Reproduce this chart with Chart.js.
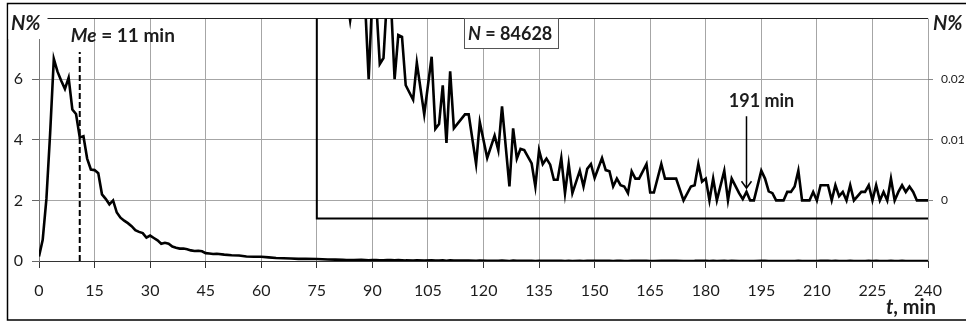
<!DOCTYPE html>
<html>
<head>
<meta charset="utf-8">
<script src="https://cdn.jsdelivr.net/npm/chart.js@4.4.1/dist/chart.umd.min.js"></script>
<style>
  html, body { margin: 0; padding: 0; background: #fff; }
  canvas { display: block; }
</style>
</head>
<body>
<canvas id="chart" width="966" height="324"></canvas>
<script>
// time t (min) and share of trips N%
const tMin = [0, 1, 2, 3, 4, 5, 6, 7, 8, 9, 10, 11, 12, 13, 14, 15, 16, 17, 18, 19,
  20, 21, 22, 23, 24, 25, 26, 27, 28, 29, 30, 31, 32, 33, 34, 35, 36, 37, 38, 39,
  40, 41, 42, 43, 44, 45, 46, 47, 48, 50, 52, 54, 56, 58, 60, 62, 64, 66, 68, 70,
  72, 75, 78, 80, 82, 83, 84, 85, 87, 88, 89, 90, 91, 92, 93, 94, 95, 96, 97, 98,
  99, 101, 102, 104, 106, 107, 108, 109, 110, 111, 112, 115, 116, 118, 119, 121, 123, 124, 125, 127,
  128, 129, 130, 131, 133, 134, 135, 136, 137, 138, 139, 140, 141, 142, 143, 144, 146, 147, 148, 149,
  150, 152, 153, 154, 155, 156, 157, 158, 159, 160, 161, 162, 164, 165, 166, 168, 169, 170, 172, 174,
  176, 177, 178, 179, 180, 181, 182, 183, 185, 186, 187, 189, 190, 191, 192, 193, 195, 196, 197, 198,
  199, 201, 202, 203, 204, 205, 206, 208, 209, 210, 211, 213, 214, 215, 216, 217, 218, 219, 220, 222,
  223, 224, 225, 226, 227, 228, 229, 230, 231, 232, 233, 234, 235, 236, 237, 240];
const nPct = [0.15, 0.7, 2.05, 4.2, 6.67, 6.25, 5.95, 5.68, 6.05, 5.0, 4.85, 4.08, 4.12, 3.38, 3.02, 3.0, 2.9, 2.2, 2.05, 1.87,
  2.0, 1.6, 1.43, 1.33, 1.25, 1.15, 1.02, 0.96, 0.92, 0.77, 0.84, 0.76, 0.68, 0.57, 0.6, 0.57, 0.48, 0.44, 0.41, 0.41,
  0.39, 0.35, 0.33, 0.34, 0.32, 0.26, 0.25, 0.23, 0.24, 0.21, 0.19, 0.18, 0.15, 0.14, 0.14, 0.12, 0.1, 0.09, 0.08, 0.07,
  0.07, 0.065, 0.05, 0.045, 0.038, 0.034, 0.0297, 0.034, 0.036, 0.033, 0.020, 0.034, 0.033, 0.0225, 0.0235, 0.034, 0.033, 0.020, 0.0273, 0.027,
  0.019, 0.0166, 0.0227, 0.0142, 0.0237, 0.0118, 0.0126, 0.019, 0.0095, 0.0213, 0.0119, 0.0142, 0.0142, 0.006, 0.0129, 0.007, 0.0107, 0.0083, 0.0155, 0.0023,
  0.0119, 0.0069, 0.0085, 0.0083, 0.0061, 0.0023, 0.0083, 0.006, 0.0069, 0.0059, 0.0034, 0.0034, 0.007, 0.0012, 0.006, 0.0012, 0.0049, 0.0023, 0.0052, 0.006,
  0.0037, 0.007, 0.005, 0.0048, 0.0023, 0.0036, 0.0025, 0.0023, 0.0012, 0.0048, 0.0036, 0.0036, 0.006, 0.0013, 0.0013, 0.006, 0.0036, 0.0036, 0.0036, 0,
  0.0023, 0.0025, 0.006, 0.0031, 0.0036, 0, 0.0036, 0, 0.0049, 0, 0.0036, 0.0012, 0.0002, 0.0014, 0, 0, 0.0049, 0.0036, 0.0015, 0.0012,
  0, 0, 0.0014, 0.0014, 0.0023, 0.0049, 0, 0, 0.0014, 0, 0.0025, 0.0025, 0, 0.0025, 0.0007, 0.0014, 0, 0.0025, 0, 0.0014,
  0.0014, 0.0025, 0, 0.0025, 0, 0.0014, 0, 0.0036, 0, 0.0014, 0.0025, 0.0014, 0.0023, 0.0014, 0, 0];

const insetFrom = 75;      // inset (zoomed) part starts here, min
const insetBottom = -0.003; // lower edge of the inset frame, in N%
const medianMin = 11;
const medianTop = 6.9;
const markMin = 191;
const totalN = 84628;

const FONT = 'Lato, "Open Sans", sans-serif';
const TXT = '#1c1c1c';

const mainPts = tMin.map((t, i) => ({x: t, y: nPct[i]}));
const insetPts = mainPts.filter(p => p.x >= insetFrom);

// draw a line of text made of bold / bold-italic pieces
function drawParts(ctx, x, y, parts, size) {
  parts.forEach(p => {
    ctx.font = (p.it ? 'italic ' : '') + 'bold ' + size + 'px ' + FONT;
    ctx.fillText(p.t, x, y);
    x += ctx.measureText(p.t).width;
  });
}

const decor = {
  id: 'decor',
  beforeDraw(chart) {
    const ctx = chart.ctx;
    ctx.save();
    ctx.fillStyle = '#fff';
    ctx.fillRect(0, 0, chart.width, chart.height);
    ctx.strokeStyle = '#000';
    ctx.lineWidth = 1.5;
    ctx.strokeRect(7.5, 3.5, chart.width + 10, 316.5);
    ctx.restore();
  },
  afterDatasetsDraw(chart) {
    const ctx = chart.ctx;
    const x = chart.scales.x, y2 = chart.scales.y2;
    const area = chart.chartArea;
    ctx.save();

    // inset frame
    const bx = x.getPixelForValue(insetFrom);
    const by = y2.getPixelForValue(insetBottom);
    ctx.strokeStyle = '#000';
    ctx.lineWidth = 2;
    ctx.beginPath();
    ctx.moveTo(bx, area.top);
    ctx.lineTo(bx, by);
    ctx.lineTo(area.right, by);
    ctx.stroke();

    // arrow at 191 min
    const ax = x.getPixelForValue(markMin);
    const tipY = y2.getPixelForValue(0.002);
    ctx.lineWidth = 1.5;
    ctx.beginPath();
    ctx.moveTo(ax, y2.getPixelForValue(0.0139));
    ctx.lineTo(ax, tipY);
    ctx.moveTo(ax - 5, tipY - 7);
    ctx.lineTo(ax, tipY);
    ctx.lineTo(ax + 5, tipY - 7);
    ctx.stroke();

    // white patch behind the left N% label
    ctx.fillStyle = '#fff';
    ctx.fillRect(8.5, 5, 39, 34);

    ctx.fillStyle = TXT;
    ctx.textBaseline = 'alphabetic';
    drawParts(ctx, 11, 30, [{t: 'N%', it: true}], 20);
    drawParts(ctx, 933, 30, [{t: 'N%', it: true}], 20);
    drawParts(ctx, x.getPixelForValue(8.6), 42, [{t: 'Me', it: true}, {t: ' = ' + medianMin + ' min'}], 19);

    // N box
    ctx.fillStyle = '#fff';
    ctx.fillRect(464, 18, 94, 30);
    ctx.strokeStyle = '#555';
    ctx.lineWidth = 1;
    ctx.strokeRect(464.5, 18.5, 94, 30);
    ctx.fillStyle = TXT;
    drawParts(ctx, 468, 40, [{t: 'N', it: true}, {t: ' = ' + totalN}], 18);

    ctx.font = 'bold 18px ' + FONT;
    ctx.textAlign = 'center';
    ctx.fillText(markMin + ' min', ax + 15, 107);
    ctx.textAlign = 'left';
    drawParts(ctx, 886, 314, [{t: 't', it: true}, {t: ', min'}], 20);
    ctx.restore();
  }
};

new Chart(document.getElementById('chart'), {
  type: 'line',
  data: {
    datasets: [
      {data: mainPts, yAxisID: 'y', borderColor: '#000', borderWidth: 2.6, pointRadius: 0, tension: 0},
      {data: insetPts, yAxisID: 'y2', borderColor: '#000', borderWidth: 2.6, pointRadius: 0, tension: 0},
      {data: [{x: medianMin, y: 0}, {x: medianMin, y: medianTop}], yAxisID: 'y',
        borderColor: '#000', borderWidth: 2, borderDash: [6, 3], pointRadius: 0}
    ]
  },
  options: {
    responsive: false,
    animation: false,
    events: [],
    layout: {padding: {top: 15, left: 0, right: 0, bottom: 0}},
    plugins: {legend: {display: false}, tooltip: {enabled: false}},
    scales: {
      x: {
        type: 'linear', min: 0, max: 240,
        ticks: {stepSize: 15, color: TXT, font: {family: FONT, size: 16}, padding: 13, maxRotation: 0},
        grid: {color: '#a6a6a6', lineWidth: 1, tickLength: 7, tickColor: '#333'},
        border: {color: '#333', width: 1},
        afterFit: s => { s.height = 63; }
      },
      y: {
        min: 0, max: 8,
        ticks: {stepSize: 2, color: TXT, font: {family: FONT, size: 16}, padding: 9,
          callback: v => (v === 8 ? '' : v)},
        grid: {color: c => (c.tick && c.tick.value === 8 ? '#222' : '#a6a6a6'), lineWidth: 1,
          tickLength: 7, tickColor: '#666'},
        border: {color: '#777', width: 1},
        afterFit: s => { s.width = 39; }
      },
      y2: {
        position: 'right', min: -0.01, max: 0.03,
        ticks: {stepSize: 0.01, color: TXT, font: {family: FONT, size: 12}, padding: 8,
          callback: v => { const k = Math.round(v * 100); return (k >= 0 && k <= 2) ? String(k / 100) : ''; }},
        grid: {drawOnChartArea: false, tickLength: 5,
          tickColor: c => { const k = Math.round(c.tick.value * 100); return (k >= 0 && k <= 2) ? '#888' : 'rgba(0,0,0,0)'; }},
        border: {display: false},
        afterFit: s => { s.width = 38; }
      }
    }
  },
  plugins: [decor]
});
</script>
</body>
</html>
